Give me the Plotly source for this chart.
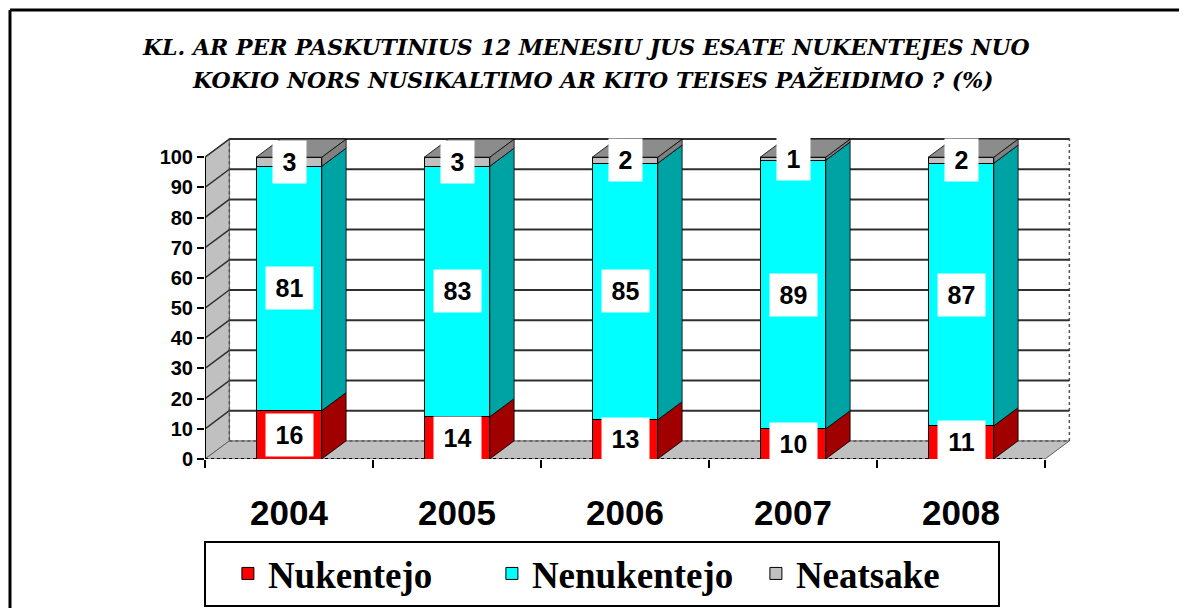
import plotly.graph_objects as go

years = ["2004", "2005", "2006", "2007", "2008"]
nukentejo = [16, 14, 13, 10, 11]
nenukentejo = [81, 83, 85, 89, 87]
neatsake = [3, 3, 2, 1, 2]
series_names = ["Nukentejo", "Nenukentejo", "Neatsake"]
y_ticks = list(range(0, 101, 10))
title_lines = ["KL. AR PER PASKUTINIUS 12 MENESIU JUS ESATE NUKENTEJES NUO",
               "KOKIO NORS NUSIKALTIMO AR KITO TEISES PAŽEIDIMO ? (%)"]

front_colors = ["#FF0000", "#00FFFF", "#C0C0C0"]
side_colors = ["#A00000", "#00A3A3", "#808080"]
top_color = "#8C8C8C"

W = 0.39      # bar width (category units)
DX = 0.145    # depth offset x
DY = 6.0      # depth offset y
XMIN, XMAX = -0.5, 4.5

series = [nukentejo, nenukentejo, neatsake]
xs = list(range(len(years)))

fig = go.Figure()

shapes = []
shapes.append(dict(type="path", xref="x", yref="y", layer="below",
                   path=f"M {XMIN},0 L {XMIN+DX},{DY} L {XMIN+DX},{100+DY} L {XMIN},100 Z",
                   fillcolor="#C0C0C0", line=dict(color="#606060", width=1)))
shapes.append(dict(type="path", xref="x", yref="y", layer="below",
                   path=f"M {XMIN},0 L {XMAX},0 L {XMAX+DX},{DY} L {XMIN+DX},{DY} Z",
                   fillcolor="#C0C0C0", line=dict(color="#606060", width=1)))
shapes.append(dict(type="rect", xref="x", yref="y", layer="below",
                   x0=XMIN+DX, x1=XMAX+DX, y0=DY, y1=100+DY,
                   fillcolor="rgba(0,0,0,0)", line=dict(color="#555555", width=1.5, dash="dot")))
for v in y_ticks[1:]:
    shapes.append(dict(type="line", xref="x", yref="y", layer="below",
                       x0=XMIN+DX, x1=XMAX+DX, y0=v+DY, y1=v+DY,
                       line=dict(color="#303030", width=2)))
    shapes.append(dict(type="line", xref="x", yref="y", layer="below",
                       x0=XMIN, x1=XMIN+DX, y0=v, y1=v+DY,
                       line=dict(color="#303030", width=1.5)))
shapes.append(dict(type="line", xref="x", yref="y", layer="below",
                   x0=XMIN, x1=XMIN, y0=0, y1=100, line=dict(color="black", width=2)))
shapes.append(dict(type="line", xref="x", yref="y", layer="below",
                   x0=XMIN, x1=XMAX, y0=0, y1=0, line=dict(color="black", width=2, dash="dot")))
# outer frame (top and left edges visible)
shapes.append(dict(type="line", xref="paper", yref="paper",
                   x0=-0.2211, x1=1.2, y0=1.3524, y1=1.3524,
                   line=dict(color="black", width=3)))
shapes.append(dict(type="line", xref="paper", yref="paper",
                   x0=-0.2211, x1=-0.2211, y0=1.3524, y1=-0.6,
                   line=dict(color="black", width=3)))

for k, (name, vals) in enumerate(zip(series_names, series)):
    fig.add_trace(go.Bar(x=xs, y=vals, name=name, width=W,
                         marker=dict(color=front_colors[k], line=dict(color="black", width=1)),
                         hoverinfo="skip"))

for k, vals in enumerate(series):
    px, py = [], []
    for i in xs:
        base = sum(series[j][i] for j in range(k))
        h = vals[i]
        xr = i + W / 2
        px += [xr, xr + DX, xr + DX, xr, xr, None]
        py += [base, base + DY, base + h + DY, base + h, base, None]
    fig.add_trace(go.Scatter(x=px, y=py, fill="toself", mode="lines",
                             fillcolor=side_colors[k], line=dict(color="black", width=0.8),
                             showlegend=False, hoverinfo="skip"))

tx, ty = [], []
for i in xs:
    total = sum(s[i] for s in series)
    xl, xr = i - W / 2, i + W / 2
    tx += [xl, xl + DX, xr + DX, xr, xl, None]
    ty += [total, total + DY, total + DY, total, total, None]
fig.add_trace(go.Scatter(x=tx, y=ty, fill="toself", mode="lines",
                         fillcolor=top_color, line=dict(color="black", width=0.8),
                         showlegend=False, hoverinfo="skip"))

annotations = []
for k, vals in enumerate(series):
    for i in xs:
        base = sum(series[j][i] for j in range(k))
        label = str(vals[i])
        annotations.append(dict(x=i, y=base + vals[i] / 2, xref="x", yref="y",
                                text=label, showarrow=False, bgcolor="white",
                                borderpad=0, width=14 * len(label) + 19, height=42,
                                font=dict(family="Arial", size=25, color="black", weight="bold")))

for line, ypos, xpos in zip(title_lines, [1.241, 1.1416], [0.432, 0.44]):
    annotations.append(dict(x=xpos, y=ypos, xref="paper", yref="paper", showarrow=False,
                            xanchor="center", yanchor="middle",
                            text=line,
                            font=dict(family="DejaVu Serif", size=22, color="black",
                                      weight="bold", style="italic")))

fig.update_layout(
    width=1171, height=600,
    margin=dict(l=197, r=92, t=119, b=149, autoexpand=False),
    paper_bgcolor="white", plot_bgcolor="white",
    barmode="stack",
    showlegend=True,
    legend=dict(orientation="h", x=0.45, xanchor="center", y=-0.346, yanchor="middle",
                traceorder="normal", entrywidth=197, entrywidthmode="pixels",
                indentation=22,
                bordercolor="black", borderwidth=2, bgcolor="white",
                font=dict(family="Times New Roman, Liberation Serif, serif", size=37,
                          color="black", weight="bold")),
    shapes=shapes,
    annotations=annotations,
    xaxis=dict(range=[XMIN, XMAX + 0.25], tickvals=xs, ticktext=years, automargin=False,
               showgrid=False, zeroline=False, showline=False, ticks="",
               ticklabelstandoff=30,
               tickfont=dict(family="Arial", size=35, color="black", weight="bold"),
               minor=dict(tick0=0.5, dtick=1, ticks="outside", ticklen=8,
                          tickwidth=2, tickcolor="black")),
    yaxis=dict(range=[0, 110], tickvals=y_ticks, showgrid=False, zeroline=False, automargin=False,
               showline=False, ticks="outside", ticklen=7, tickwidth=2, tickcolor="black",
               tickfont=dict(family="Arial", size=20, color="black", weight="bold")),
)

fig.write_html("out.html")
